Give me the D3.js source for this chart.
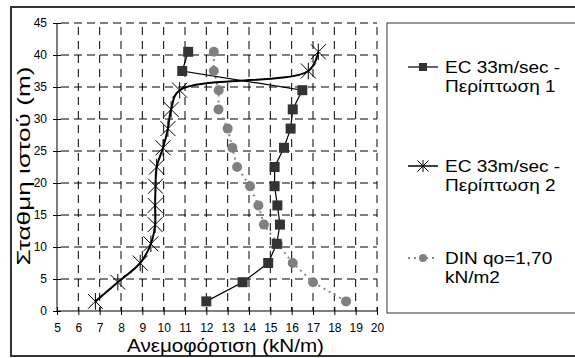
<!DOCTYPE html>
<html><head><meta charset="utf-8">
<script src="https://cdn.jsdelivr.net/npm/d3@7"></script>
<style>
body{margin:0;background:#fff;}
text{font-family:"Liberation Sans",Arial,sans-serif;fill:#000;}
</style></head>
<body><svg id="c" width="575" height="358"></svg>
<script>
const heights = [1.5,4.5,7.5,10.5,13.5,16.5,19.5,22.5,25.5,28.5,31.5,34.5,37.5,40.5];
const ecCase1 = [12.0,13.7,14.9,15.3,15.45,15.33,15.2,15.2,15.64,15.95,16.05,16.5,10.87,11.15];
const ecCase2 = [6.8,7.85,8.9,9.4,9.6,9.6,9.62,9.67,9.97,10.2,10.35,10.75,16.78,17.25];
const dinValues = [18.55,17.0,16.05,15.35,14.7,14.44,14.05,13.44,13.22,13.0,12.57,12.58,12.35,12.35];
const xTicks = d3.range(5,21,1);
const yTicks = d3.range(0,46,5);
const xTitle = "Ανεμοφόρτιση (kN/m)";
const yTitle = "Σταθμη ιστού (m)";
const legendLabels = [["EC 33m/sec -","Περίπτωση 1"],["EC 33m/sec -","Περίπτωση 2"],["DIN qo=1,70","kN/m2"]];

const svg = d3.select("#c");
const x = d3.scaleLinear().domain([5,20]).range([57,377]);
const y = d3.scaleLinear().domain([0,45]).range([311,23]);

// outer border
svg.append("rect").attr("x",11).attr("y",7).attr("width",600).attr("height",349)
  .attr("fill","none").attr("stroke","#333").attr("stroke-width",2);

// gridlines
const g = svg.append("g");
g.selectAll(".vg").data(xTicks.slice(1)).join("line")
  .attr("x1",d=>x(d)).attr("x2",d=>x(d)).attr("y1",y(45)).attr("y2",y(0))
  .attr("stroke","#000").attr("stroke-width",1).attr("stroke-dasharray","8,6").attr("stroke-dashoffset",-4);
g.selectAll(".hg").data(yTicks.slice(1)).join("line")
  .attr("x1",x(5)).attr("x2",x(20)).attr("y1",d=>y(d)).attr("y2",d=>y(d))
  .attr("stroke","#000").attr("stroke-width",1).attr("stroke-dasharray","8,5").attr("stroke-dashoffset",-4);

// axes
const yAxis = d3.axisLeft(y).tickValues(yTicks).tickSize(4).tickPadding(6);
const ya = svg.append("g").attr("transform",`translate(${x(5)},0)`).call(yAxis);
const xAxis = d3.axisBottom(x).tickValues(xTicks).tickSize(4).tickPadding(8);
const xa = svg.append("g").attr("transform",`translate(0,${y(0)})`).call(xAxis);
[ya,xa].forEach(a=>{
  a.select(".domain").attr("stroke","#000").attr("stroke-width",1);
  a.selectAll(".tick line").attr("stroke","#000");
  a.selectAll(".tick text").attr("font-size",12).attr("font-family","Liberation Sans, Arial, sans-serif").attr("fill","#000");
});
ya.selectAll(".tick line").attr("x2",4).attr("x1",-4);
xa.selectAll(".tick line").attr("y1",-4).attr("y2",4);
ya.select(".domain").attr("d",`M0,${y(45)}V${y(0)}`);
xa.select(".domain").attr("d",`M${x(5)},0H${x(20)}`);

// titles
svg.append("text").attr("x",225.5).attr("y",352).attr("text-anchor","middle")
  .attr("font-size",19).attr("textLength",197).attr("lengthAdjust","spacingAndGlyphs").text(xTitle);
svg.append("text").attr("transform",`translate(30,166) rotate(-90)`).attr("text-anchor","middle")
  .attr("font-size",19).attr("textLength",199).attr("lengthAdjust","spacingAndGlyphs").text(yTitle);

// series
const s1 = heights.map((h,i)=>[ecCase1[i],h]);
const s2 = heights.map((h,i)=>[ecCase2[i],h]);
const s3 = heights.map((h,i)=>[dinValues[i],h]);

svg.append("path").datum(s3).attr("fill","none").attr("stroke","#888").attr("stroke-width",2)
  .attr("stroke-dasharray","2,4")
  .attr("d",d3.line().x(d=>x(d[0])).y(d=>y(d[1])));
svg.append("path").datum(s1).attr("fill","none").attr("stroke","#000").attr("stroke-width",1.2)
  .attr("d",d3.line().x(d=>x(d[0])).y(d=>y(d[1])));
svg.append("path").datum(s2).attr("fill","none").attr("stroke","#000").attr("stroke-width",2)
  .attr("d",d3.line().curve(d3.curveCatmullRom.alpha(0.5)).x(d=>x(d[0])).y(d=>y(d[1])));

function asterisk(sel, s){
  sel.append("path").attr("fill","none").attr("stroke","#000").attr("stroke-width",1)
    .attr("d",`M${-s},${-s}L${s},${s}M${-s},${s}L${s},${-s}M0,${-s*1.1}V${s*1.1}`);
}
svg.selectAll(".m3").data(s3).join("circle").attr("cx",d=>x(d[0])).attr("cy",d=>y(d[1]))
  .attr("r",5).attr("fill","#808080");
svg.selectAll(".m1").data(s1).join("rect").attr("x",d=>x(d[0])-5).attr("y",d=>y(d[1])-5)
  .attr("width",10).attr("height",10).attr("fill","#333");
svg.selectAll(".m2").data(s2).join("g").attr("transform",d=>`translate(${x(d[0])},${y(d[1])})`)
  .each(function(){asterisk(d3.select(this),7.5);});

// legend
svg.append("rect").attr("x",387).attr("y",23).attr("width",300).attr("height",290)
  .attr("fill","none").attr("stroke","#333").attr("stroke-width",1);
const legY = [67,166,258];
legendLabels.forEach((lab,i)=>{
  const ly = legY[i];
  const lg = svg.append("g");
  if(i===2){
    lg.append("line").attr("x1",408).attr("x2",438).attr("y1",ly).attr("y2",ly)
      .attr("stroke","#888").attr("stroke-width",2).attr("stroke-dasharray","2,4");
    lg.append("circle").attr("cx",423).attr("cy",ly).attr("r",4).attr("fill","#808080");
  } else {
    lg.append("line").attr("x1",408).attr("x2",438).attr("y1",ly).attr("y2",ly)
      .attr("stroke","#000").attr("stroke-width",i===1?1.5:1.2);
    if(i===0){
      lg.append("rect").attr("x",419).attr("y",ly-4).attr("width",8).attr("height",8).attr("fill","#333");
    } else {
      const a = lg.append("g").attr("transform",`translate(423,${ly})`);
      asterisk(a,5.5);
    }
  }
  lab.forEach((line,j)=>{
    const t = lg.append("text").attr("x",445).attr("y",ly+6+j*19).attr("font-size",19).text(line);
    const w = t.node().getComputedTextLength();
    t.attr("font-size",16.5).attr("textLength",w).attr("lengthAdjust","spacingAndGlyphs");
  });
});
</script></body></html>
